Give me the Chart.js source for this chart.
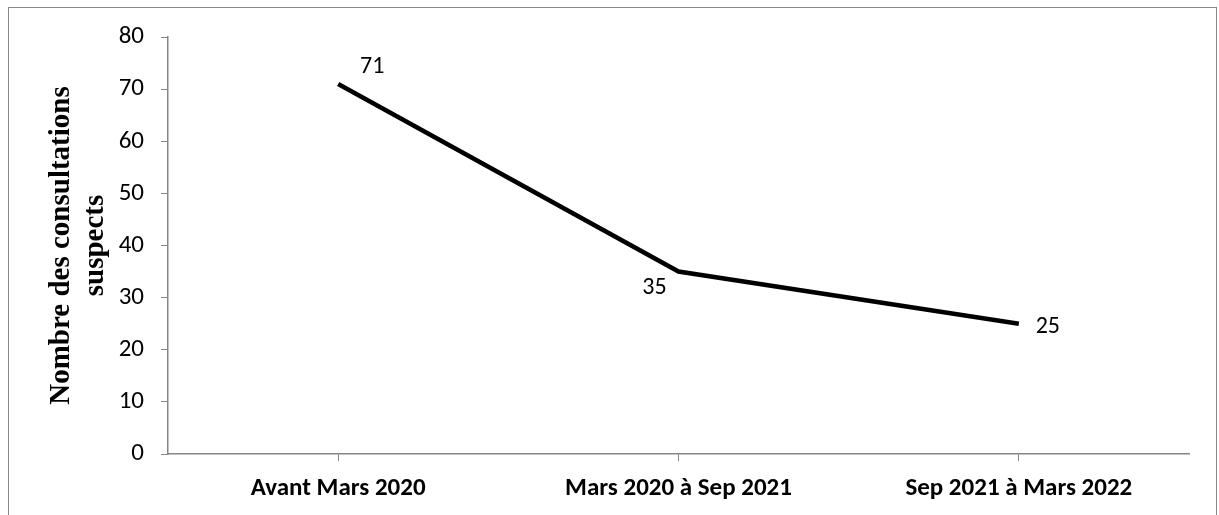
<!DOCTYPE html>
<html>
<head>
<meta charset="utf-8">
<script src="https://cdn.jsdelivr.net/npm/chart.js@4"></script>
<style>
  html, body { margin: 0; padding: 0; background: #fff; }
  #wrap { position: relative; width: 1219px; height: 515px; overflow: hidden; }
  #frame { position: absolute; left: 8px; top: 7px; width: 1209px; height: 600px; border: 1px solid #8a8a8a; box-sizing: border-box; }
  canvas { position: absolute; left: 0; top: 0; }
</style>
</head>
<body>
<div id="wrap">
  <div id="frame"></div>
  <canvas id="chart" width="1219" height="515"></canvas>
</div>
<script>
// data
const periods = ["Avant Mars 2020", "Mars 2020 à Sep 2021", "Sep 2021 à Mars 2022"];
const consultations = [71, 35, 25];
const yTitle = ["Nombre des consultations", "suspects"];

// where each value label sits relative to its point
const labelOffsets = [[34, -17], [-24, 16], [29, 3]];

const sansFont = "Carlito, Lato, 'Noto Sans', sans-serif";
const axisGrey = "#868686";

const valueLabels = {
    id: "valueLabels",
    afterDatasetsDraw(chart) {
        const ctx = chart.ctx;
        const meta = chart.getDatasetMeta(0);
        ctx.save();
        ctx.font = "24px " + sansFont;
        ctx.fillStyle = "#000";
        ctx.textAlign = "center";
        ctx.textBaseline = "middle";
        meta.data.forEach((pt, i) => {
            ctx.fillText(String(consultations[i]), pt.x + labelOffsets[i][0], pt.y + labelOffsets[i][1]);
        });
        ctx.restore();
    }
};

new Chart(document.getElementById("chart"), {
    type: "line",
    data: {
        labels: periods,
        datasets: [{
            data: consultations,
            borderColor: "#000",
            borderWidth: 4.5,
            pointRadius: 0,
            tension: 0,
            fill: false
        }]
    },
    options: {
        responsive: false,
        animation: false,
        layout: { padding: { left: 0, top: 37, right: 30, bottom: 0 } },
        plugins: {
            legend: { display: false },
            tooltip: { enabled: false }
        },
        scales: {
            x: {
                offset: true,
                grid: { drawOnChartArea: false, drawTicks: true, tickLength: 7, color: axisGrey },
                border: { color: axisGrey, width: 1.5 },
                ticks: {
                    color: "#000",
                    padding: 13,
                    maxRotation: 0,
                    font: { family: sansFont, size: 25, weight: "bold" }
                },
                afterFit(scale) { scale.height = 61; }
            },
            y: {
                min: 0,
                max: 80,
                grid: { drawOnChartArea: false, drawTicks: true, tickLength: 7, color: axisGrey },
                border: { color: axisGrey, width: 1.5 },
                ticks: {
                    stepSize: 10,
                    color: "#000",
                    padding: 17,
                    font: { family: sansFont, size: 25 }
                },
                title: {
                    display: true,
                    text: yTitle,
                    color: "#000",
                    padding: { top: 45, bottom: 0 },
                    font: { family: "'Liberation Serif', 'Times New Roman', serif", size: 29, weight: "bold", lineHeight: 1.17 }
                },
                afterFit(scale) { scale.width = 168; }
            }
        }
    },
    plugins: [valueLabels]
});
</script>
</body>
</html>
